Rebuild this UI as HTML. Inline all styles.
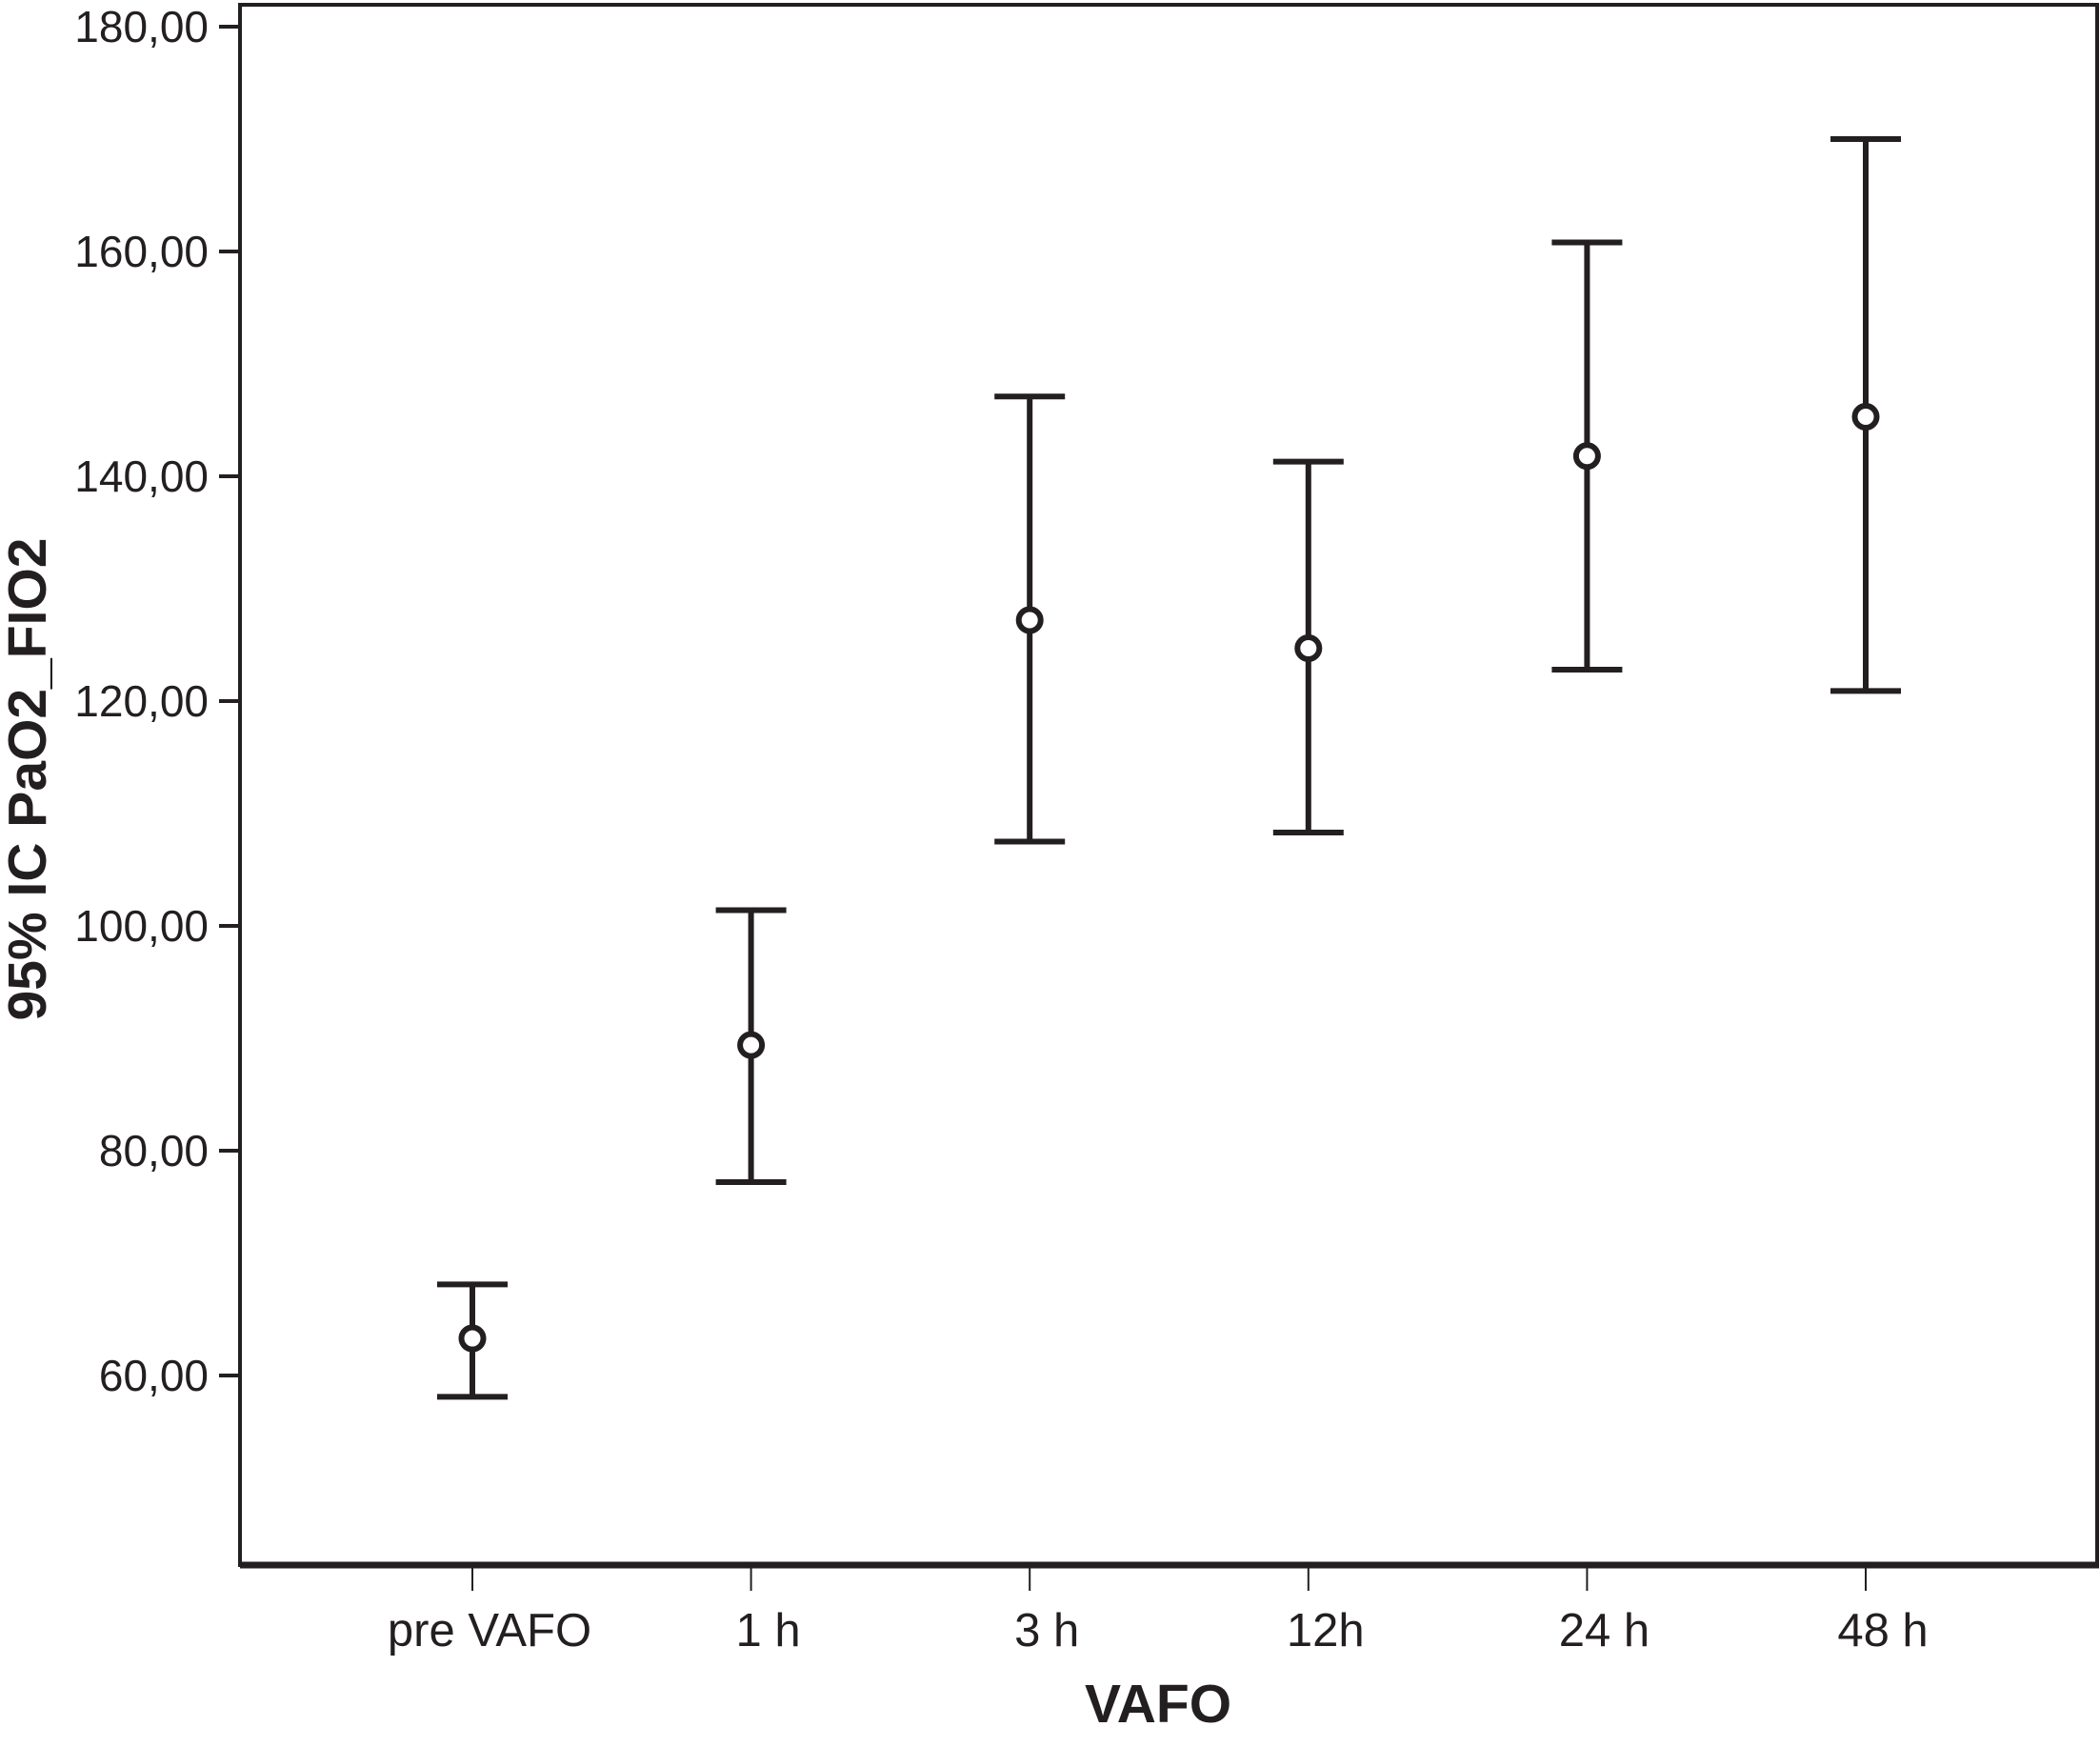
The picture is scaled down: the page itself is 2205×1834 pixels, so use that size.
<!DOCTYPE html>
<html><head><meta charset="utf-8"><style>
html,body{margin:0;padding:0;background:#fff;}
svg{display:block;}
text{font-family:"Liberation Sans",Arial,sans-serif;fill:#231f20;}
</style></head><body>
<svg id="chart" width="2205" height="1834" viewBox="0 0 2205 1834">
<g id="axes"></g>
<g id="marks"></g>
<text x="0" y="0" transform="translate(48,818) rotate(-90)" text-anchor="middle" font-size="57" font-weight="bold">95% IC PaO2_FIO2</text>
<text x="1216" y="1808" text-anchor="middle" font-size="57" font-weight="bold">VAFO</text>
</svg>
<script>
const categories = ["pre VAFO","1 h","3 h","12h","24 h","48 h"];
const means = [63.3, 89.4, 127.2, 124.7, 141.8, 145.3];
const upper = [68.1, 101.4, 147.1, 141.3, 160.8, 170.0];
const lower = [58.1, 77.2, 107.5, 108.3, 122.8, 120.9];
const yTicks = [60, 80, 100, 120, 140, 160, 180];
const yTickLabels = ["60,00","80,00","100,00","120,00","140,00","160,00","180,00"];

const NS = "http://www.w3.org/2000/svg";
const L = 252, R = 2202, T = 5, B = 1643;
function y(v){ return 1444 - (v - 60) * 11.8; }
function x(i){ return 496 + i * 292.6; }
function mk(tag, attrs, parent){
  const e = document.createElementNS(NS, tag);
  for (const k in attrs) e.setAttribute(k, attrs[k]);
  parent.appendChild(e);
  return e;
}
const axes = document.getElementById('axes');
const marks = document.getElementById('marks');

const frame = mk('rect', {x:L, y:T, width:R-L, height:B-T, fill:'none', stroke:'#231f20', 'stroke-width':4}, axes);


const xaxis = mk('line', {x1:L, x2:R+2, y1:B, y2:B, stroke:'#231f20', 'stroke-width':7}, axes);



yTicks.forEach((v, i) => {
  const t = mk('line', {x1:230, x2:L, y1:y(v), y2:y(v), stroke:'#231f20', 'stroke-width':4}, axes);
  
  
  const lb = mk('text', {x:219, y:y(v)+16, 'text-anchor':'end', 'font-size':46}, axes);
  lb.textContent = yTickLabels[i];
  
  
});

categories.forEach((c, i) => {
  const t = mk('line', {x1:x(i), x2:x(i), y1:B, y2:1670, stroke:'#231f20', 'stroke-width':2}, axes);
  
  
  const lb = mk('text', {x:x(i)+18, y:1728, 'text-anchor':'middle', 'font-size':49}, axes);
  lb.textContent = c;
  
  

  const g = mk('g', {}, marks);
  
  
  const sw = 6, cw = 37;
  mk('line', {x1:x(i), x2:x(i), y1:y(upper[i]), y2:y(lower[i]), stroke:'#231f20', 'stroke-width':sw}, g);
  mk('line', {x1:x(i)-cw, x2:x(i)+cw, y1:y(upper[i]), y2:y(upper[i]), stroke:'#231f20', 'stroke-width':sw}, g);
  mk('line', {x1:x(i)-cw, x2:x(i)+cw, y1:y(lower[i]), y2:y(lower[i]), stroke:'#231f20', 'stroke-width':sw}, g);
  const p = mk('circle', {cx:x(i), cy:y(means[i]), r:11.5, fill:'#fff', stroke:'#231f20', 'stroke-width':6}, marks);
  
  
});
</script>
</body></html>
